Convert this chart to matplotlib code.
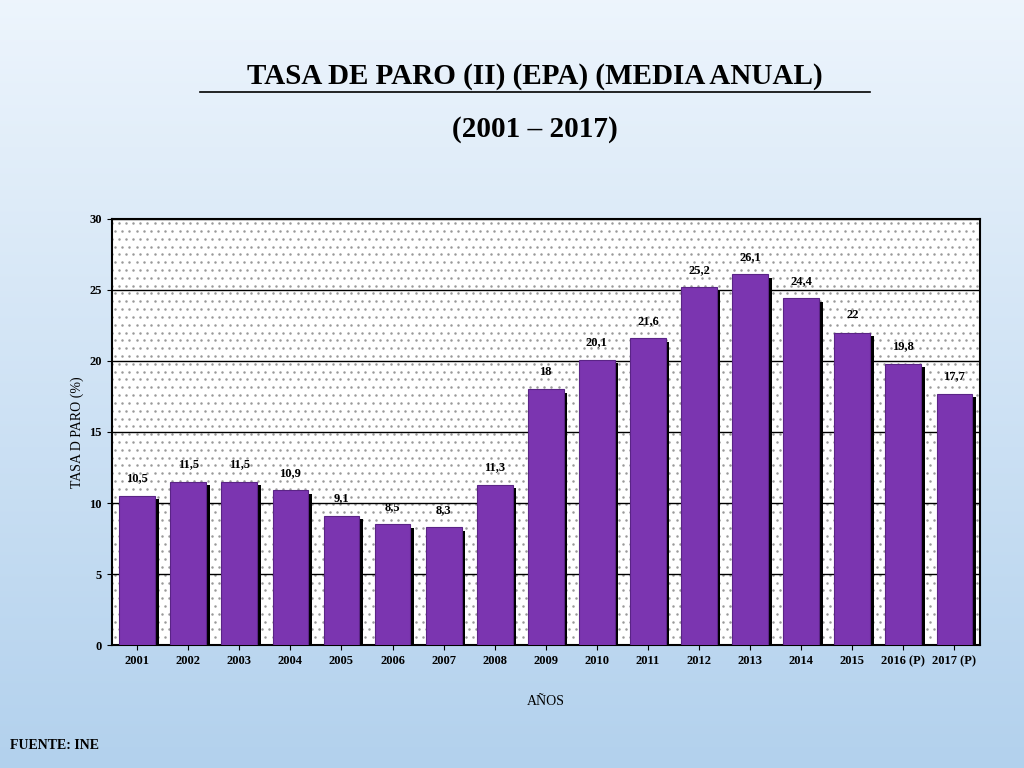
import numpy as np
import matplotlib.pyplot as plt

plt.rcParams['font.family'] = 'Liberation Serif'
plt.rcParams['font.weight'] = 'bold'

years = ['2001', '2002', '2003', '2004', '2005', '2006', '2007', '2008', '2009',
         '2010', '2011', '2012', '2013', '2014', '2015', '2016 (P)', '2017 (P)']
tasa = [10.5, 11.5, 11.5, 10.9, 9.1, 8.5, 8.3, 11.3, 18, 20.1, 21.6, 25.2, 26.1,
        24.4, 22, 19.8, 17.7]
etiquetas = ['10,5', '11,5', '11,5', '10,9', '9,1', '8,5', '8,3', '11,3', '18',
             '20,1', '21,6', '25,2', '26,1', '24,4', '22', '19,8', '17,7']

fig = plt.figure(figsize=(10.24, 7.68), dpi=100)

# background gradient
bg = fig.add_axes([0, 0, 1, 1], zorder=-10)
grad = np.linspace(0, 1, 256).reshape(-1, 1)
c_top = np.array([0.93, 0.96, 0.99])
c_bot = np.array([0.70, 0.82, 0.93])
img = c_top + (c_bot - c_top) * grad[:, :, None]
bg.imshow(img, aspect='auto', extent=[0, 1, 0, 1])
bg.axis('off')

fig.text(0.522, 0.900, 'TASA DE PARO (II) (EPA) (MEDIA ANUAL)', ha='center', va='center',
         fontsize=21)
fig.add_artist(plt.Line2D([0.195, 0.850], [0.880, 0.880], color='black', lw=1.2))
fig.text(0.522, 0.832, '(2001 \u2013 2017)', ha='center', va='center', fontsize=21)
fig.text(0.01, 0.025, 'FUENTE: INE', fontsize=10)

ax = fig.add_axes([0.109, 0.160, 0.848, 0.555])
x = np.arange(len(years))
# dotted pattern
ax.set_facecolor('white')
dx, dy = np.meshgrid(np.arange(-0.5, len(years) - 0.5, 0.14), np.arange(0, 30, 0.55))
dx = dx + (np.arange(dy.shape[0])[:, None] % 2) * 0.07
ax.scatter(dx.ravel(), dy.ravel(), s=0.6, color='#999999', zorder=0)

for v in range(5, 31, 5):
    ax.axhline(v, color='black', lw=1, zorder=1)

ax.bar(x + 0.07, tasa, width=0.7, bottom=-0.25, color='black', zorder=2)
ax.bar(x, tasa, width=0.7, color='#7B35B0', edgecolor='#5A2486', lw=0.8, zorder=3)
for xi, v, t in zip(x, tasa, etiquetas):
    ax.text(xi, v + 0.8, t, ha='center', va='bottom', fontsize=9)

ax.set_xlim(-0.5, len(years) - 0.5)
ax.set_ylim(0, 30)
ax.set_yticks(range(0, 31, 5))
ax.set_xticks(x)
ax.set_xticklabels(years)
ax.tick_params(labelsize=9)
for s in ax.spines.values():
    s.set_linewidth(1.5)
ax.set_ylabel('TASA D PARO (%)', fontsize=10)
ax.set_xlabel('AÑOS', fontsize=10, labelpad=20)

plt.savefig('out.png', dpi=100)
